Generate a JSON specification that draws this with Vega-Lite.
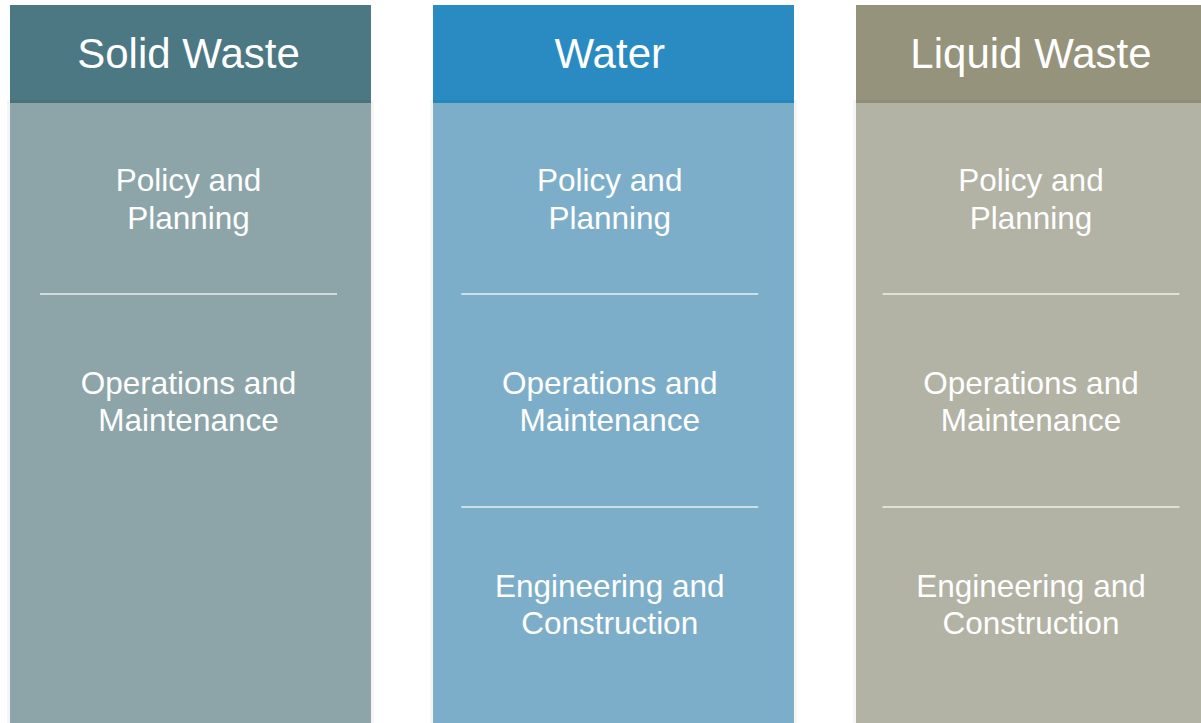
{
  "$schema": "https://vega.github.io/schema/vega-lite/v6.json",
  "padding": {"top": 5, "left": 0, "right": 0, "bottom": 0},
  "background": "white",
  "spacing": 0,
  "bounds": "flush",
  "datasets": {
    "columns": [
      {"column": "Solid Waste"},
      {"column": "Water"},
      {"column": "Liquid Waste"}
    ],
    "items": [
      {"column": "Solid Waste", "tier": 1, "label": "Policy and\nPlanning"},
      {"column": "Solid Waste", "tier": 2, "label": "Operations and\nMaintenance"},
      {"column": "Water", "tier": 1, "label": "Policy and\nPlanning"},
      {"column": "Water", "tier": 2, "label": "Operations and\nMaintenance"},
      {"column": "Water", "tier": 3, "label": "Engineering and\nConstruction"},
      {"column": "Liquid Waste", "tier": 1, "label": "Policy and\nPlanning"},
      {"column": "Liquid Waste", "tier": 2, "label": "Operations and\nMaintenance"},
      {"column": "Liquid Waste", "tier": 3, "label": "Engineering and\nConstruction"}
    ],
    "separators": [
      {"column": "Solid Waste", "boundary": 1.5},
      {"column": "Water", "boundary": 1.5},
      {"column": "Water", "boundary": 2.5},
      {"column": "Liquid Waste", "boundary": 1.5},
      {"column": "Liquid Waste", "boundary": 2.5}
    ]
  },
  "vconcat": [
    {
      "width": 1201,
      "height": 98,
      "data": {"name": "columns"},
      "resolve": {"scale": {"x": "independent"}},
      "layer": [
        {
          "mark": {"type": "rect"},
          "encoding": {
            "x": {"field": "column", "type": "nominal", "axis": null,
                  "scale": {"type": "band", "domain": ["Solid Waste", "Water", "Liquid Waste"], "range": [10, 1217], "paddingInner": 0.1466, "paddingOuter": 0}},
            "color": {"field": "column", "type": "nominal", "legend": null,
                      "scale": {"domain": ["Solid Waste", "Water", "Liquid Waste"], "range": ["#4b7883", "#2a8bc2", "#96937c"]}}
          }
        },
        {
          "mark": {"type": "text", "font": "Liberation Sans", "fontSize": 42, "color": "white", "baseline": "middle", "align": "center", "dy": 1},
          "encoding": {
            "x": {"field": "column", "type": "nominal", "axis": null,
                  "scale": {"type": "band", "domain": ["Solid Waste", "Water", "Liquid Waste"], "range": [-22.1, 1241.6], "paddingInner": 0, "paddingOuter": 0}},
            "text": {"field": "column"}
          }
        }
      ]
    },
    {
      "width": 1201,
      "height": 620,
      "resolve": {"scale": {"x": "independent", "y": "independent"}},
      "layer": [
        {
          "data": {"name": "columns"},
          "mark": {"type": "rect", "stroke": "#000", "strokeOpacity": 0.04, "strokeWidth": 6, "fill": null},
          "encoding": {
            "x": {"field": "column", "type": "nominal", "axis": null,
                  "scale": {"type": "band", "domain": ["Solid Waste", "Water", "Liquid Waste"], "range": [10, 1217], "paddingInner": 0.1466, "paddingOuter": 0}}
          }
        },
        {
          "data": {"name": "columns"},
          "mark": {"type": "rect"},
          "encoding": {
            "x": {"field": "column", "type": "nominal", "axis": null,
                  "scale": {"type": "band", "domain": ["Solid Waste", "Water", "Liquid Waste"], "range": [10, 1217], "paddingInner": 0.1466, "paddingOuter": 0}},
            "color": {"field": "column", "type": "nominal", "legend": null,
                      "scale": {"domain": ["Solid Waste", "Water", "Liquid Waste"], "range": ["#8da5a8", "#7daec9", "#b2b2a5"]}}
          }
        },
        {
          "data": {"name": "separators"},
          "mark": {"type": "tick", "orient": "horizontal", "size": 297, "thickness": 1.3, "color": "white", "opacity": 0.8},
          "encoding": {
            "x": {"field": "column", "type": "nominal", "axis": null,
                  "scale": {"type": "band", "domain": ["Solid Waste", "Water", "Liquid Waste"], "range": [-22.1, 1241.6], "paddingInner": 0, "paddingOuter": 0}},
            "y": {"field": "boundary", "type": "quantitative", "axis": null,
                  "scale": {"domain": [0.6033, 3.514], "reverse": true, "nice": false, "zero": false}}
          }
        },
        {
          "data": {"name": "items"},
          "mark": {"type": "text", "font": "Liberation Sans", "fontSize": 31.5, "lineHeight": 37.5, "lineBreak": "\n", "color": "white", "baseline": "middle", "align": "center", "dy": -18.75},
          "encoding": {
            "x": {"field": "column", "type": "nominal", "axis": null,
                  "scale": {"type": "band", "domain": ["Solid Waste", "Water", "Liquid Waste"], "range": [-22.1, 1241.6], "paddingInner": 0, "paddingOuter": 0}},
            "y": {"field": "tier", "type": "quantitative", "axis": null,
                  "scale": {"domain": [0.5174, 3.5738], "reverse": true, "nice": false, "zero": false}},
            "text": {"field": "label"}
          }
        }
      ]
    }
  ],
  "resolve": {"scale": {"color": "independent"}},
  "config": {"view": {"stroke": null}}
}
